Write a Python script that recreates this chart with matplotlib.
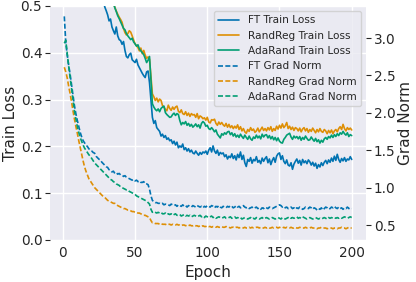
import numpy as np
import matplotlib
matplotlib.use('Agg')
import matplotlib.pyplot as plt
import seaborn as sns

sns.set_theme(style='darkgrid')
plt.rcParams['font.family'] = ['DejaVu Sans']

epochs = list(range(1, 201))

ft_loss = [2.10, 1.72, 1.45, 1.28, 1.16, 1.07, 1.00, 0.95, 0.90, 0.86,
           0.82, 0.79, 0.76, 0.74, 0.71, 0.69, 0.67, 0.65, 0.63, 0.62,
           0.60, 0.59, 0.57, 0.56, 0.55, 0.54, 0.53, 0.515, 0.498, 0.490,
           0.481, 0.468, 0.472, 0.455, 0.447, 0.440, 0.455, 0.436, 0.428, 0.426,
           0.418, 0.424, 0.405, 0.392, 0.389, 0.396, 0.399, 0.385, 0.382, 0.379,
           0.386, 0.374, 0.368, 0.362, 0.356, 0.351, 0.347, 0.359, 0.361, 0.336,
           0.300, 0.262, 0.249, 0.255, 0.240, 0.236, 0.232, 0.222, 0.226, 0.219,
           0.223, 0.215, 0.218, 0.212, 0.214, 0.206, 0.211, 0.203, 0.209, 0.197,
           0.201, 0.198, 0.205, 0.193, 0.197, 0.190, 0.195, 0.188, 0.192, 0.186,
           0.184, 0.190, 0.185, 0.181, 0.187, 0.183, 0.188, 0.186, 0.190, 0.183,
           0.192, 0.197, 0.188, 0.201, 0.190, 0.185, 0.192, 0.181, 0.187, 0.184,
           0.186, 0.178, 0.182, 0.173, 0.179, 0.176, 0.184, 0.174, 0.180, 0.171,
           0.183, 0.176, 0.188, 0.172, 0.181, 0.165, 0.157, 0.172, 0.168, 0.176,
           0.164, 0.172, 0.169, 0.178, 0.166, 0.170, 0.163, 0.175, 0.168, 0.174,
           0.178, 0.165, 0.173, 0.161, 0.170, 0.176, 0.166, 0.179, 0.184, 0.186,
           0.172, 0.180, 0.168, 0.163, 0.171, 0.160, 0.158, 0.165, 0.151, 0.162,
           0.168, 0.173, 0.164, 0.170, 0.160, 0.172, 0.165, 0.169, 0.163, 0.171,
           0.167, 0.160, 0.166, 0.158, 0.164, 0.153, 0.161, 0.156, 0.165, 0.159,
           0.166, 0.170, 0.163, 0.171, 0.166, 0.175, 0.168, 0.179, 0.170, 0.183,
           0.172, 0.166, 0.174, 0.169, 0.176, 0.168, 0.173, 0.171, 0.178, 0.172]

randreg_loss = [2.30, 1.90, 1.62, 1.44, 1.31, 1.21, 1.13, 1.06, 1.01, 0.96,
                0.92, 0.88, 0.85, 0.82, 0.79, 0.77, 0.75, 0.73, 0.71, 0.69,
                0.68, 0.66, 0.65, 0.64, 0.62, 0.61, 0.60, 0.59, 0.58, 0.57,
                0.555, 0.545, 0.535, 0.520, 0.508, 0.497, 0.489, 0.482, 0.476, 0.471,
                0.465, 0.452, 0.443, 0.438, 0.441, 0.447, 0.444, 0.436, 0.427, 0.419,
                0.415, 0.411, 0.404, 0.410, 0.398, 0.405, 0.395, 0.388, 0.391, 0.386,
                0.350, 0.312, 0.306, 0.298, 0.303, 0.295, 0.301, 0.298, 0.287, 0.284,
                0.279, 0.276, 0.288, 0.281, 0.277, 0.284, 0.279, 0.284, 0.286, 0.275,
                0.272, 0.278, 0.270, 0.268, 0.274, 0.266, 0.271, 0.264, 0.270, 0.267,
                0.268, 0.262, 0.270, 0.259, 0.265, 0.263, 0.259, 0.261, 0.256, 0.262,
                0.252, 0.250, 0.257, 0.256, 0.258, 0.249, 0.245, 0.252, 0.247, 0.251,
                0.246, 0.243, 0.249, 0.241, 0.247, 0.240, 0.244, 0.238, 0.243, 0.239,
                0.246, 0.236, 0.242, 0.233, 0.238, 0.231, 0.228, 0.236, 0.232, 0.240,
                0.234, 0.237, 0.230, 0.233, 0.239, 0.231, 0.236, 0.241, 0.234, 0.238,
                0.233, 0.240, 0.235, 0.242, 0.232, 0.238, 0.234, 0.243, 0.237, 0.245,
                0.239, 0.248, 0.240, 0.244, 0.251, 0.238, 0.243, 0.236, 0.241, 0.234,
                0.240, 0.238, 0.233, 0.239, 0.231, 0.237, 0.240, 0.233, 0.238, 0.230,
                0.236, 0.232, 0.239, 0.234, 0.229, 0.236, 0.231, 0.238, 0.232, 0.230,
                0.236, 0.233, 0.227, 0.234, 0.229, 0.235, 0.227, 0.233, 0.236, 0.231,
                0.238, 0.242, 0.236, 0.247, 0.238, 0.233, 0.240, 0.236, 0.239, 0.235]

adarand_loss = [2.25, 1.86, 1.59, 1.41, 1.28, 1.18, 1.10, 1.04, 0.99, 0.94,
                0.90, 0.87, 0.84, 0.81, 0.78, 0.76, 0.74, 0.72, 0.70, 0.68,
                0.67, 0.65, 0.64, 0.63, 0.61, 0.60, 0.59, 0.58, 0.57, 0.56,
                0.55, 0.54, 0.53, 0.518, 0.506, 0.496, 0.488, 0.479, 0.473, 0.466,
                0.459, 0.452, 0.449, 0.441, 0.436, 0.432, 0.428, 0.431, 0.423, 0.419,
                0.414, 0.417, 0.408, 0.404, 0.400, 0.396, 0.388, 0.379, 0.384, 0.392,
                0.340, 0.291, 0.284, 0.279, 0.276, 0.280, 0.274, 0.281, 0.284, 0.286,
                0.272, 0.268, 0.265, 0.262, 0.263, 0.268, 0.271, 0.266, 0.270, 0.268,
                0.255, 0.246, 0.251, 0.248, 0.253, 0.245, 0.249, 0.243, 0.247, 0.241,
                0.244, 0.248, 0.242, 0.246, 0.239, 0.249, 0.253, 0.250, 0.243, 0.245,
                0.238, 0.236, 0.240, 0.236, 0.231, 0.235, 0.226, 0.222, 0.218, 0.227,
                0.224, 0.229, 0.226, 0.231, 0.232, 0.225, 0.229, 0.222, 0.227, 0.220,
                0.224, 0.219, 0.226, 0.221, 0.217, 0.224, 0.219, 0.215, 0.222, 0.216,
                0.213, 0.220, 0.217, 0.224, 0.218, 0.222, 0.216, 0.226, 0.220, 0.224,
                0.225, 0.218, 0.223, 0.216, 0.221, 0.214, 0.219, 0.212, 0.218, 0.211,
                0.208, 0.207, 0.215, 0.219, 0.224, 0.226, 0.228, 0.220, 0.215, 0.222,
                0.218, 0.221, 0.216, 0.221, 0.213, 0.219, 0.215, 0.222, 0.217, 0.213,
                0.214, 0.220, 0.215, 0.211, 0.217, 0.210, 0.214, 0.207, 0.213, 0.209,
                0.216, 0.219, 0.215, 0.221, 0.218, 0.224, 0.219, 0.225, 0.221, 0.227,
                0.223, 0.229, 0.226, 0.232, 0.227, 0.224, 0.229, 0.221, 0.225, 0.223]

ft_grad = [3.29, 2.95, 2.78, 2.64, 2.52, 2.38, 2.24, 2.10, 1.99, 1.90,
           1.82, 1.74, 1.68, 1.63, 1.60, 1.57, 1.55, 1.52, 1.50, 1.49,
           1.47, 1.46, 1.42, 1.40, 1.38, 1.37, 1.34, 1.32, 1.30, 1.28,
           1.27, 1.24, 1.23, 1.21, 1.22, 1.19, 1.20, 1.18, 1.19, 1.17,
           1.17, 1.15, 1.16, 1.14, 1.13, 1.12, 1.11, 1.10, 1.11, 1.09,
           1.10, 1.08, 1.09, 1.07, 1.07, 1.08, 1.05, 1.05, 1.04, 0.98,
           0.89, 0.83, 0.81, 0.80, 0.80, 0.79, 0.79, 0.78, 0.79, 0.77,
           0.78, 0.77, 0.77, 0.76, 0.78, 0.77, 0.76, 0.77, 0.75, 0.77,
           0.76, 0.75, 0.77, 0.75, 0.76, 0.74, 0.76, 0.75, 0.74, 0.76,
           0.75, 0.74, 0.76, 0.75, 0.74, 0.75, 0.73, 0.75, 0.74, 0.76,
           0.75, 0.74, 0.76, 0.75, 0.73, 0.75, 0.74, 0.76, 0.74, 0.73,
           0.75, 0.74, 0.73, 0.75, 0.74, 0.76, 0.75, 0.73, 0.74, 0.76,
           0.74, 0.75, 0.73, 0.74, 0.76, 0.74, 0.73, 0.74, 0.72, 0.73,
           0.74, 0.72, 0.73, 0.74, 0.72, 0.73, 0.71, 0.73, 0.72, 0.74,
           0.73, 0.72, 0.74, 0.73, 0.72, 0.73, 0.74, 0.75, 0.76, 0.77,
           0.76, 0.74, 0.75, 0.73, 0.74, 0.72, 0.73, 0.74, 0.72, 0.73,
           0.71, 0.73, 0.72, 0.74, 0.73, 0.71, 0.72, 0.74, 0.73, 0.72,
           0.74, 0.73, 0.71, 0.73, 0.72, 0.70, 0.72, 0.71, 0.73, 0.70,
           0.72, 0.74, 0.73, 0.71, 0.72, 0.74, 0.73, 0.75, 0.73, 0.72,
           0.74, 0.72, 0.73, 0.71, 0.73, 0.72, 0.74, 0.72, 0.73, 0.72]

randreg_grad = [2.61, 2.55, 2.47, 2.36, 2.26, 2.15, 2.03, 1.92, 1.82, 1.73,
                1.63, 1.54, 1.45, 1.36, 1.28, 1.22, 1.17, 1.12, 1.09, 1.06,
                1.03, 1.00, 0.98, 0.96, 0.94, 0.92, 0.90, 0.88, 0.87, 0.85,
                0.83, 0.82, 0.81, 0.80, 0.79, 0.79, 0.77, 0.76, 0.75, 0.74,
                0.73, 0.72, 0.72, 0.71, 0.70, 0.70, 0.69, 0.68, 0.68, 0.67,
                0.67, 0.66, 0.66, 0.65, 0.64, 0.63, 0.63, 0.62, 0.61, 0.60,
                0.56, 0.53, 0.53, 0.52, 0.52, 0.52, 0.51, 0.52, 0.51, 0.51,
                0.51, 0.50, 0.51, 0.51, 0.50, 0.51, 0.50, 0.50, 0.51, 0.50,
                0.50, 0.49, 0.50, 0.50, 0.49, 0.50, 0.49, 0.50, 0.49, 0.49,
                0.50, 0.49, 0.49, 0.48, 0.49, 0.48, 0.49, 0.48, 0.48, 0.49,
                0.48, 0.48, 0.47, 0.48, 0.48, 0.47, 0.48, 0.47, 0.47, 0.48,
                0.47, 0.47, 0.48, 0.47, 0.47, 0.46, 0.47, 0.47, 0.46, 0.47,
                0.47, 0.46, 0.47, 0.47, 0.46, 0.47, 0.46, 0.46, 0.47, 0.46,
                0.47, 0.46, 0.46, 0.47, 0.47, 0.46, 0.47, 0.46, 0.46, 0.47,
                0.46, 0.47, 0.46, 0.46, 0.47, 0.46, 0.47, 0.47, 0.46, 0.47,
                0.46, 0.46, 0.47, 0.46, 0.47, 0.46, 0.46, 0.47, 0.46, 0.46,
                0.47, 0.46, 0.46, 0.47, 0.46, 0.46, 0.46, 0.47, 0.46, 0.46,
                0.46, 0.47, 0.46, 0.46, 0.46, 0.45, 0.46, 0.46, 0.47, 0.46,
                0.46, 0.46, 0.45, 0.46, 0.46, 0.46, 0.45, 0.46, 0.46, 0.45,
                0.46, 0.46, 0.47, 0.46, 0.46, 0.45, 0.46, 0.47, 0.46, 0.46]

adarand_grad = [2.93, 2.97, 2.80, 2.63, 2.48, 2.32, 2.17, 2.03, 1.92, 1.82,
                1.74, 1.67, 1.62, 1.57, 1.53, 1.50, 1.47, 1.44, 1.42, 1.39,
                1.36, 1.33, 1.31, 1.29, 1.27, 1.25, 1.23, 1.21, 1.19, 1.17,
                1.15, 1.13, 1.11, 1.10, 1.08, 1.07, 1.05, 1.04, 1.03, 1.01,
                1.00, 0.99, 0.98, 0.97, 0.97, 0.95, 0.94, 0.93, 0.92, 0.91,
                0.89, 0.88, 0.87, 0.86, 0.85, 0.84, 0.83, 0.82, 0.80, 0.78,
                0.71, 0.67, 0.68, 0.67, 0.66, 0.67, 0.66, 0.67, 0.65, 0.65,
                0.66, 0.64, 0.65, 0.64, 0.65, 0.63, 0.64, 0.65, 0.63, 0.63,
                0.64, 0.62, 0.63, 0.64, 0.62, 0.63, 0.62, 0.63, 0.61, 0.62,
                0.63, 0.62, 0.61, 0.62, 0.63, 0.61, 0.62, 0.60, 0.62, 0.61,
                0.60, 0.61, 0.62, 0.60, 0.61, 0.59, 0.60, 0.61, 0.60, 0.59,
                0.60, 0.61, 0.59, 0.59, 0.60, 0.61, 0.59, 0.60, 0.61, 0.59,
                0.60, 0.59, 0.60, 0.58, 0.59, 0.60, 0.59, 0.58, 0.59, 0.60,
                0.58, 0.59, 0.58, 0.60, 0.59, 0.58, 0.59, 0.60, 0.58, 0.59,
                0.60, 0.59, 0.58, 0.59, 0.60, 0.59, 0.58, 0.59, 0.60, 0.59,
                0.58, 0.60, 0.59, 0.58, 0.59, 0.60, 0.61, 0.59, 0.60, 0.59,
                0.60, 0.61, 0.59, 0.60, 0.59, 0.61, 0.60, 0.59, 0.58, 0.59,
                0.60, 0.59, 0.58, 0.59, 0.60, 0.59, 0.58, 0.59, 0.58, 0.59,
                0.60, 0.59, 0.58, 0.60, 0.59, 0.60, 0.59, 0.60, 0.59, 0.60,
                0.59, 0.60, 0.59, 0.60, 0.61, 0.60, 0.59, 0.60, 0.61, 0.60]

blue, orange, green = '#0173b2', '#de8f05', '#029e73'

fig, ax = plt.subplots(figsize=(4.16, 2.82), dpi=100)
fig.subplots_adjust(left=0.12, right=0.88, bottom=0.149, top=0.979)
ax2 = ax.twinx()

lw = 1.2
dash = (3.0, 1.4)
l1, = ax.plot(epochs, ft_loss, color=blue, lw=lw, label='FT Train Loss')
l2, = ax.plot(epochs, randreg_loss, color=orange, lw=lw, label='RandReg Train Loss')
l3, = ax.plot(epochs, adarand_loss, color=green, lw=lw, label='AdaRand Train Loss')
l4, = ax2.plot(epochs, ft_grad, color=blue, lw=lw, ls='--', dashes=dash, label='FT Grad Norm')
l5, = ax2.plot(epochs, randreg_grad, color=orange, lw=lw, ls='--', dashes=dash, label='RandReg Grad Norm')
l6, = ax2.plot(epochs, adarand_grad, color=green, lw=lw, ls='--', dashes=dash, label='AdaRand Grad Norm')

ax.set_ylim(0, 0.5)
ax2.set_ylim(0.30, 3.43)
ax2.grid(False)
ax.set_xticks([0, 50, 100, 150, 200])
ax.set_yticks([0.0, 0.1, 0.2, 0.3, 0.4, 0.5])
ax2.set_yticks([0.5, 1.0, 1.5, 2.0, 2.5, 3.0])

ax.set_xlabel('Epoch', fontsize=11, labelpad=4)
ax.set_ylabel('Train Loss', fontsize=11, labelpad=2)
ax2.set_ylabel('Grad Norm', fontsize=11, labelpad=2)
ax.tick_params(axis='x', labelsize=9.8, bottom=False, length=0, pad=4)
ax.tick_params(axis='y', labelsize=9.8, left=True, length=3.5, width=0.8, color='.15', pad=2)
ax2.tick_params(axis='y', labelsize=9.8, right=True, length=3.5, width=0.8, color='.15', pad=2)
for s in list(ax.spines.values()) + list(ax2.spines.values()):
    s.set_visible(False)

ax2.legend(handles=[l1, l2, l3, l4, l5, l6], loc='upper right', fontsize=7.6)

fig.savefig('out.png', dpi=100)
